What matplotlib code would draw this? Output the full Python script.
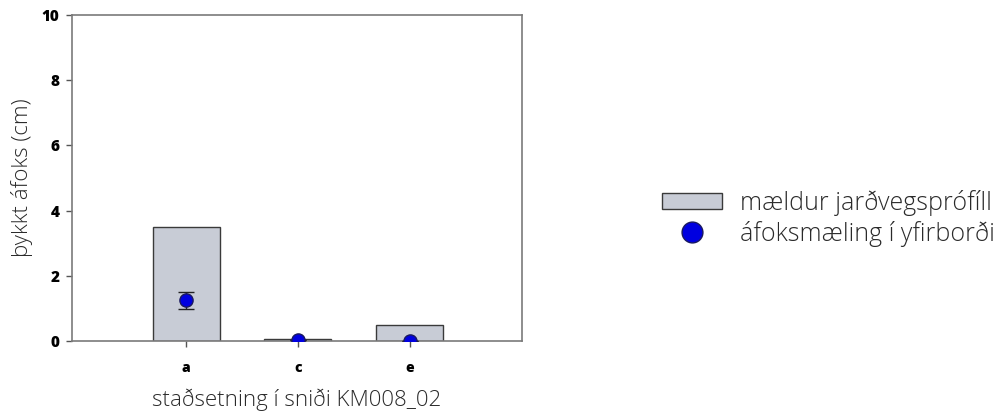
import matplotlib
matplotlib.use("Agg")
import matplotlib.pyplot as plt
from matplotlib.patches import Patch
from matplotlib.lines import Line2D

categories = ["a", "c", "e"]
profile_values = [3.5, 0.08, 0.48]
surface_values = [1.25, 0.02, 0.0]
surface_err = [0.25, 0.0, 0.0]
yticks = [0, 2, 4, 6, 8, 10]

plt.rcParams['font.family'] = ['Open Sans', 'DejaVu Sans']

fig = plt.figure(figsize=(10.07, 4.15), dpi=100)
ax = fig.add_axes([0.0715, 0.178, 0.4465, 0.786])

x = list(range(len(categories)))
bar_face = "#c8ccd6"
edge = "#3a3a3a"
ax.bar(x, profile_values, width=0.6, color=bar_face, edgecolor=edge, linewidth=1.0, zorder=2)
ax.errorbar(x, surface_values, yerr=surface_err, fmt='o', color='#0000e0', markeredgecolor='#1a1a60',
            markersize=9.5, ecolor='#222222', elinewidth=1.0, capsize=5.5, capthick=1.0, zorder=3)

ax.set_xlim(-1.02, 3.0)
ax.set_ylim(0, 10)
ax.set_xticks(x)
ax.set_xticklabels(categories, fontweight='heavy', fontsize=10)
ax.set_yticks(yticks)
ax.set_yticklabels([str(t) for t in yticks], fontweight='heavy', fontsize=11)
for s in ax.spines.values():
    s.set_color('#7a7a7a')
    s.set_linewidth(1.2)
ax.tick_params(axis='both', direction='out', length=4, color='#555555', width=1)
ax.tick_params(axis='x', pad=10)
ax.tick_params(axis='y', pad=5)
ax.set_xlabel("staðsetning í sniði KM008_02", fontsize=16, fontweight='light', color='#2a2a2a', labelpad=10)
ax.set_ylabel("þykkt áfoks (cm)", fontsize=16, fontweight='light', color='#2a2a2a', labelpad=6)

handles = [Patch(facecolor=bar_face, edgecolor=edge, linewidth=1.0),
           Line2D([], [], marker='o', linestyle='none', color='#0000e0', markeredgecolor='#1a1a60', markersize=15)]
labels = ["mældur jarðvegsprófíll", "áfoksmæling í yfirborði"]
fig.legend(handles, labels, loc='center left', bbox_to_anchor=(662/1007, 1-218/415), frameon=False,
           prop={'size': 18, 'weight': 'light'}, handlelength=2.4, handleheight=0.6, handletextpad=0.7,
           labelspacing=0.2, labelcolor='#2a2a2a', borderaxespad=0, borderpad=0)

fig.savefig("out.png", dpi=100)
